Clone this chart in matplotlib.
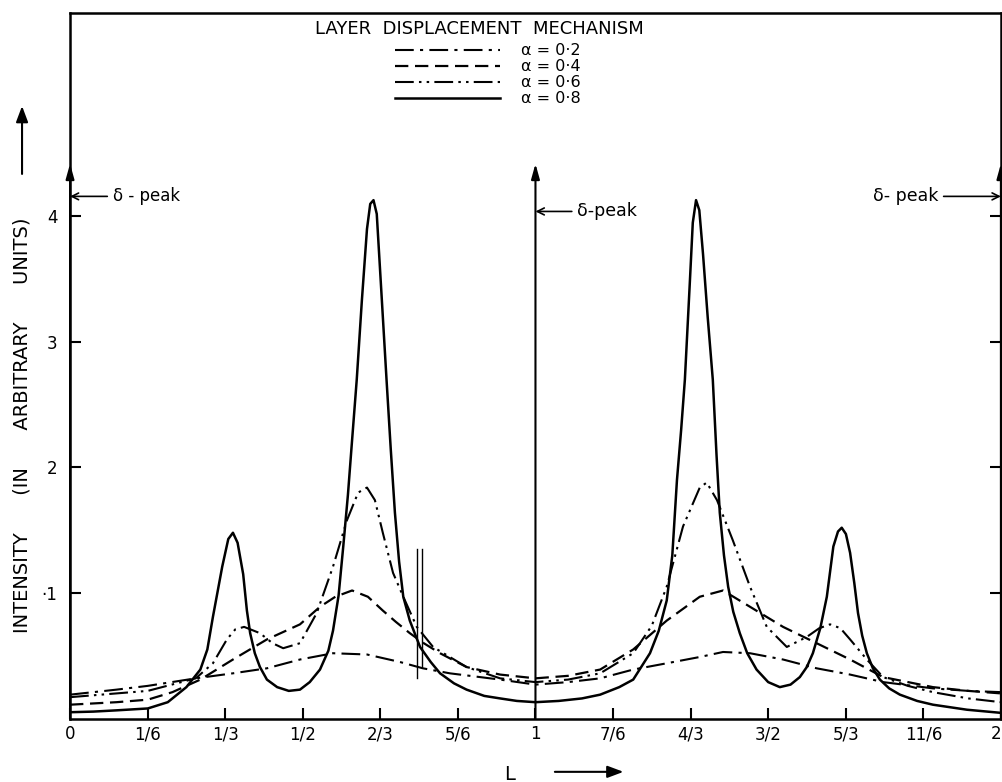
import numpy as np
import matplotlib
matplotlib.use("Agg")
import matplotlib.pyplot as plt

plt.rcParams['font.family'] = ['DejaVu Sans']

# alpha = 0.2 (dash-dot)
L_02 = [0, 0.1, 0.167, 0.27, 0.35, 0.423, 0.494, 0.565, 0.638, 0.709, 0.758, 0.816, 0.924, 1.0,
        1.07, 1.139, 1.21, 1.282, 1.353, 1.403, 1.461, 1.532, 1.604, 1.676, 1.747, 1.854, 1.93, 2.0]
I_02 = [0.19, 0.23, 0.26, 0.32, 0.36, 0.40, 0.47, 0.52, 0.51, 0.45, 0.40, 0.36, 0.31, 0.27,
        0.29, 0.32, 0.39, 0.44, 0.49, 0.53, 0.52, 0.47, 0.40, 0.35, 0.29, 0.24, 0.22, 0.21]

# alpha = 0.4 (dashed)
L_04 = [0, 0.1, 0.167, 0.22, 0.28, 0.35, 0.423, 0.494, 0.537, 0.57, 0.606, 0.64, 0.672, 0.70,
        0.73, 0.76, 0.795, 0.852, 0.924, 1.0, 1.07, 1.139, 1.21, 1.282, 1.353, 1.403, 1.461,
        1.532, 1.604, 1.676, 1.747, 1.854, 1.93, 2.0]
I_04 = [0.11, 0.13, 0.15, 0.21, 0.31, 0.47, 0.63, 0.75, 0.89, 0.97, 1.02, 0.97, 0.86, 0.77,
        0.68, 0.60, 0.52, 0.41, 0.35, 0.32, 0.34, 0.39, 0.55, 0.78, 0.97, 1.02, 0.89,
        0.73, 0.60, 0.47, 0.33, 0.25, 0.22, 0.20]

# alpha = 0.6 (dash-dot-dot)
L_06 = [0, 0.1, 0.167, 0.27, 0.307, 0.337, 0.355, 0.374, 0.408, 0.435, 0.458, 0.494, 0.53, 0.565,
        0.595, 0.619, 0.638, 0.655, 0.672, 0.694, 0.716, 0.745, 0.78, 0.852, 0.924, 1.0, 1.07,
        1.139, 1.21, 1.25, 1.282, 1.317, 1.353, 1.368, 1.39, 1.424, 1.461, 1.497, 1.54, 1.583,
        1.61, 1.633, 1.655, 1.676, 1.712, 1.747, 1.80, 1.854, 1.93, 2.0]
I_06 = [0.17, 0.20, 0.22, 0.32, 0.44, 0.63, 0.71, 0.73, 0.68, 0.60, 0.56, 0.60, 0.84, 1.21,
        1.58, 1.80, 1.84, 1.74, 1.48, 1.16, 0.97, 0.73, 0.57, 0.41, 0.32, 0.29, 0.31,
        0.36, 0.52, 0.74, 1.05, 1.53, 1.84, 1.88, 1.74, 1.42, 1.05, 0.73, 0.57, 0.65,
        0.72, 0.75, 0.72, 0.63, 0.47, 0.33, 0.26, 0.21, 0.16, 0.13]

# alpha = 0.8 (solid)
L_08 = [0, 0.05, 0.1, 0.167, 0.21, 0.25, 0.28, 0.295, 0.307, 0.327, 0.34, 0.35, 0.36, 0.372, 0.38,
        0.387, 0.397, 0.408, 0.423, 0.445, 0.47, 0.494, 0.515, 0.537, 0.555, 0.565, 0.577, 0.587,
        0.597, 0.605, 0.616, 0.627, 0.638, 0.645, 0.652, 0.659, 0.67, 0.68, 0.689, 0.698, 0.707,
        0.716, 0.73, 0.752, 0.775, 0.795, 0.825, 0.852, 0.89, 0.924, 0.96, 1.0,
        1.05, 1.10, 1.139, 1.18, 1.21, 1.246, 1.265, 1.282, 1.294, 1.304, 1.313, 1.321, 1.332,
        1.338, 1.345, 1.352, 1.36, 1.37, 1.381, 1.389, 1.396, 1.405, 1.414, 1.425, 1.439, 1.455,
        1.475, 1.50, 1.525, 1.548, 1.568, 1.583, 1.596, 1.612, 1.626, 1.64, 1.65, 1.658, 1.667,
        1.676, 1.685, 1.693, 1.702, 1.712, 1.725, 1.74, 1.76, 1.783, 1.82, 1.854, 1.927, 2.0]
I_08 = [0.05, 0.055, 0.065, 0.08, 0.13, 0.25, 0.39, 0.55, 0.81, 1.21, 1.43, 1.48, 1.40, 1.15, 0.86,
        0.68, 0.52, 0.41, 0.31, 0.25, 0.22, 0.23, 0.29, 0.39, 0.54, 0.70, 0.98, 1.37,
        1.78, 2.17, 2.70, 3.33, 3.90, 4.10, 4.13, 4.02, 3.33, 2.70, 2.15, 1.64, 1.25,
        0.97, 0.78, 0.57, 0.45, 0.36, 0.28, 0.23, 0.18, 0.16, 0.14, 0.13,
        0.14, 0.16, 0.19, 0.25, 0.31, 0.52, 0.70, 0.94, 1.30, 1.90, 2.30, 2.70, 3.50,
        3.95, 4.13, 4.05, 3.70, 3.20, 2.70, 2.10, 1.64, 1.30, 1.05, 0.85, 0.68, 0.52,
        0.39, 0.29, 0.25, 0.27, 0.33, 0.41, 0.52, 0.72, 0.97, 1.37, 1.49, 1.52, 1.47,
        1.32, 1.08, 0.84, 0.66, 0.52, 0.40, 0.31, 0.24, 0.19, 0.14, 0.11, 0.07, 0.045]

x_ticks = [0, 1/6, 1/3, 1/2, 2/3, 5/6, 1, 7/6, 4/3, 3/2, 5/3, 11/6, 2]
x_labels = ['0', '1/6', '1/3', '1/2', '2/3', '5/6', '1', '7/6', '4/3', '3/2', '5/3', '11/6', '2']
y_ticks = [1, 2, 3, 4]
y_labels = ['·1', '2', '3', '4']

fig = plt.figure(figsize=(10.02, 7.82), dpi=100)
ax = fig.add_axes([0.0699, 0.0812, 0.929, 0.902])

ax.plot(L_02, I_02, color='black', lw=1.5, ls=(0, (9, 3, 1.5, 3)), label='α = 0·2')
ax.plot(L_04, I_04, color='black', lw=1.6, ls=(0, (6, 3)), label='α = 0·4')
ax.plot(L_06, I_06, color='black', lw=1.5, ls=(0, (9, 2.5, 1.2, 2.5, 1.2, 2.5)), label='α = 0·6')
ax.plot(L_08, I_08, color='black', lw=1.8, label='α = 0·8')

ax.set_xlim(0, 2)
ax.set_ylim(0, 5.62)
ax.set_xticks(x_ticks)
ax.set_xticklabels(x_labels, fontsize=12)
ax.get_xticklabels()[-1].set_horizontalalignment('right')
ax.set_yticks(y_ticks)
ax.set_yticklabels(y_labels, fontsize=12)
ax.tick_params(axis='x', direction='in', length=8, width=1.5, pad=5, top=False)
ax.tick_params(axis='y', direction='in', length=8, width=1.5, pad=9, right=True)
for s in ax.spines.values():
    s.set_linewidth(1.8)

# delta peaks
for xp in [0, 1, 2]:
    ax.annotate('', xy=(xp, 4.42), xytext=(xp, 0), annotation_clip=False,
                arrowprops=dict(arrowstyle='-|>,head_length=0.9,head_width=0.25', color='black',
                                lw=1.5, shrinkA=0, shrinkB=0))
ax.annotate('δ - peak', xy=(0, 4.16), xytext=(0.092, 4.16), fontsize=12, va='center', ha='left',
            arrowprops=dict(arrowstyle='->', color='black', lw=1.2, shrinkB=0))
ax.annotate('δ-peak', xy=(1, 4.04), xytext=(1.09, 4.04), fontsize=12.5, va='center', ha='left',
            arrowprops=dict(arrowstyle='->', color='black', lw=1.2, shrinkB=0))
ax.annotate('δ- peak', xy=(2, 4.16), xytext=(1.865, 4.16), fontsize=12.5, va='center', ha='right',
            annotation_clip=False,
            arrowprops=dict(arrowstyle='->', color='black', lw=1.2, shrinkB=0))

# small double marker near L = 3/4
ax.plot([0.745, 0.745], [0.32, 1.35], color='black', lw=1)
ax.plot([0.757, 0.757], [0.41, 1.35], color='black', lw=1)

ax.text(0.44, 0.978, 'LAYER  DISPLACEMENT  MECHANISM', transform=ax.transAxes,
        ha='center', va='center', fontsize=13)
ax.legend(loc='upper left', bbox_to_anchor=(0.349, 0.957), frameon=False, fontsize=11.5,
          handlelength=6.6, handletextpad=1.3, labelspacing=0.06, borderpad=0, borderaxespad=0)

fig.text(0.022, 0.456, 'INTENSITY      (IN      ARBITRARY      UNITS)', rotation=90,
         ha='center', va='center', fontsize=14)
fig.add_artist(matplotlib.patches.FancyArrowPatch((0.022, 0.774), (0.022, 0.868),
               transform=fig.transFigure, arrowstyle='-|>,head_length=0.8,head_width=0.3',
               color='black', lw=1.5, mutation_scale=12))
fig.text(0.509, 0.01, 'L', ha='center', va='center', fontsize=14)
fig.add_artist(matplotlib.patches.FancyArrowPatch((0.551, 0.013), (0.625, 0.013),
               transform=fig.transFigure, arrowstyle='-|>,head_length=0.8,head_width=0.3',
               color='black', lw=1.5, mutation_scale=12))

fig.savefig('out.png', dpi=100)
